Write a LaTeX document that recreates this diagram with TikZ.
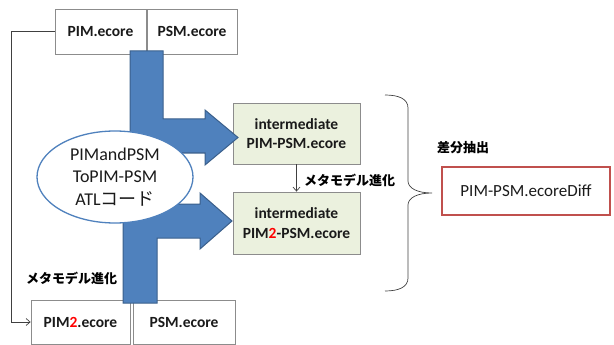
\documentclass[tikz,border=0pt]{standalone}
\usepackage{fontspec}
\setmainfont{Carlito}
\newfontfamily\jp{Noto Sans CJK JP}
\usetikzlibrary{arrows.meta,shapes.geometric}
\definecolor{blueFill}{HTML}{4F81BD}
\definecolor{blueEdge}{HTML}{3A5F8B}
\definecolor{greenFill}{HTML}{EBF1DE}
\definecolor{boxEdge}{HTML}{8C8C8C}
\definecolor{redEdge}{HTML}{C0504D}
\definecolor{txt}{HTML}{1A1A1A}
\begin{document}
\begin{tikzpicture}[x=1pt,y=-1pt,
  filebox/.style={draw=boxEdge,line width=0.8pt,fill=white,minimum height=45pt,inner sep=0pt,
    font=\fontsize{15.5}{18}\selectfont\bfseries,text=txt},
  midbox/.style={draw=boxEdge,line width=0.8pt,fill=greenFill,minimum width=127pt,minimum height=61pt,
    inner sep=0pt,align=center,font=\fontsize{15.5}{19.5}\selectfont\bfseries,text=txt},
  bigarrow/.style={fill=blueFill,draw=blueEdge,line width=1pt,line join=miter},
  thin/.style={draw=black!75,line width=0.7pt},
  jplabel/.style={font=\jp\fontsize{13}{15}\selectfont\bfseries,text=black,inner sep=0pt}]
\useasboundingbox (0,0) rectangle (614,345);

% input models
\node[filebox,minimum width=91pt] (pim) at (100.5,31.5) {PIM.ecore};
\node[filebox,minimum width=90pt] (psm) at (192,31.5) {PSM.ecore};
\node[filebox,minimum width=99pt,minimum height=44pt] (pim2) at (80.5,322) {PIM\textcolor{red}{2}.ecore};
\node[filebox,minimum width=102pt,minimum height=44pt] (psm2) at (184,322) {PSM.ecore};

% intermediate models
\node[midbox] (mid1) at (296.5,133.5) {intermediate\\PIM-PSM.ecore};
\node[midbox,minimum height=62pt] (mid2) at (296.5,223) {intermediate\\PIM\textcolor{red}{2}-PSM.ecore};

% transformation arrows
\path[bigarrow] (130,51) -- (163,51) -- (163,119) -- (205,119) -- (205,110) -- (238,137.5)
  -- (205,165) -- (205,153) -- (130,153) -- cycle;
\path[bigarrow] (123,303) -- (157,303) -- (157,238) -- (200,238) -- (200,249) -- (232,221)
  -- (200,193) -- (200,204) -- (123,204) -- cycle;

% transformation code
\node[ellipse,draw=blueFill,line width=1.3pt,fill=white,minimum width=156pt,minimum height=92pt,
  inner sep=0pt,align=center,font=\fontsize{18}{22.5}\selectfont,text=txt] (atl) at (115,177)
  {PIMandPSM\\ToPIM-PSM\\ATL{\jp コード}};

% evolution links
\draw[thin,-{Straight Barb[length=4pt,width=7pt]}] (mid1.south) -- (mid2.north);
\draw[thin,-{Straight Barb[length=4pt,width=7pt]}] (pim.west) -- ++(-43,0) |- (pim2.west);
\node[jplabel,anchor=west] (evo1) at (304,180) {メタモデル進化};
\node[jplabel,anchor=west] (evo2) at (26,278) {メタモデル進化};

% difference extraction
\draw[thin] (385,95) .. controls (399,95) and (408,99) .. (408,108) -- (408,181)
  .. controls (408,188) and (417,193) .. (432,193)
  .. controls (417,193) and (408,198) .. (408,205) -- (408,278)
  .. controls (408,287) and (399,291) .. (385,291);
\node[jplabel,anchor=west] (diffl) at (437,148) {差分抽出};
\node[draw=redEdge,line width=1.6pt,minimum width=168pt,minimum height=48pt,inner sep=0pt,
  font=\fontsize{17}{20}\selectfont,text=txt] (diff) at (526,191) {PIM-PSM.ecoreDiff};
\end{tikzpicture}
\end{document}
